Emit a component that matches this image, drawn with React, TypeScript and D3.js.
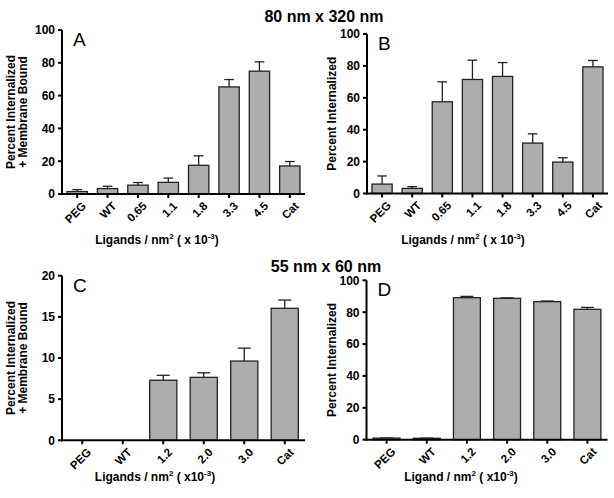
import React from "react";
import * as d3 from "d3";

const catsAB = ["PEG", "WT", "0.65", "1.1", "1.8", "3.3", "4.5", "Cat"];
const aMeans = [1.5, 3.3, 5.4, 7.1, 17.5, 65.3, 74.9, 17.1];
const aErrs = [1.2, 1.4, 1.6, 2.6, 5.8, 4.5, 5.7, 2.7];
const bMeans = [5.9, 3.2, 57.5, 71.5, 73.4, 31.6, 19.7, 79.4];
const bErrs = [5.1, 1.1, 12.5, 12.1, 8.7, 5.8, 2.7, 4.0];

const catsCD = ["PEG", "WT", "1.2", "2.0", "3.0", "Cat"];
const cMeans = [0, 0, 7.3, 7.65, 9.63, 16.04];
const cErrs = [0, 0, 0.6, 0.55, 1.57, 1.0];
const dMeans = [1.0, 0.9, 89.1, 88.7, 86.6, 81.8];
const dErrs = [0.1, 0.1, 0.8, 0.3, 0.4, 1.2];

const ticks100 = [0, 20, 40, 60, 80, 100];
const ticks20 = [0, 5, 10, 15, 20];

const FONT = "'Liberation Sans', Arial, sans-serif";

type PanelProps = {
  cats: string[];
  means: number[];
  errs: number[];
  yMax: number;
  ticks: number[];
  x0: number;
  x1: number;
  yTop: number;
  yBot: number;
  letter: string;
  yLabel: string[];
  yLabelX: number;
  xLabel: React.ReactNode;
  xLabelX: number;
  xLabelY: number;
};

function Panel(p: PanelProps) {
  const x = d3
    .scaleBand<string>()
    .domain(p.cats)
    .range([p.x0, p.x1])
    .paddingInner(0.33)
    .paddingOuter(0.165);
  const y = d3.scaleLinear().domain([0, p.yMax]).range([p.yBot, p.yTop]);
  const bw = x.bandwidth();
  const yMid = (p.yTop + p.yBot) / 2;
  return (
    <g>
      {p.cats.map((c, i) =>
        p.means[i] > 0 ? (
          <g key={c}>
            <line
              x1={x(c)! + bw / 2}
              x2={x(c)! + bw / 2}
              y1={y(p.means[i])}
              y2={y(p.means[i] + p.errs[i])}
              stroke="#222"
              strokeWidth={1.3}
            />
            <line
              x1={x(c)! + bw / 2 - bw * 0.24}
              x2={x(c)! + bw / 2 + bw * 0.24}
              y1={y(p.means[i] + p.errs[i])}
              y2={y(p.means[i] + p.errs[i])}
              stroke="#222"
              strokeWidth={1.3}
            />
            <rect
              x={x(c)}
              y={y(p.means[i])}
              width={bw}
              height={y(0) - y(p.means[i])}
              fill="#adadad"
              stroke="#222"
              strokeWidth={1.3}
            />
          </g>
        ) : null
      )}
      <line x1={p.x0} x2={p.x0} y1={p.yBot + 1} y2={p.yTop} stroke="#000" strokeWidth={2} />
      {p.ticks.map((t) => (
        <g key={t}>
          <line x1={p.x0 - 4} x2={p.x0} y1={y(t)} y2={y(t)} stroke="#000" strokeWidth={2} />
          <text
            x={p.x0 - 7}
            y={y(t)}
            dy="0.36em"
            textAnchor="end"
            fontSize={12}
            fontWeight="bold"
            fontFamily={FONT}
          >
            {t}
          </text>
        </g>
      ))}
      <line x1={p.x0 - 1} x2={p.x1} y1={p.yBot} y2={p.yBot} stroke="#000" strokeWidth={2} />
      {p.cats.map((c) => {
        const cx = x(c)! + bw / 2;
        return (
          <g key={c}>
            <line x1={cx} x2={cx} y1={p.yBot} y2={p.yBot + 4} stroke="#000" strokeWidth={2} />
            <g transform={`translate(${cx + 4},${p.yBot + 7}) rotate(-45)`}>
              <text
                x={0}
                y={0}
                textAnchor="end"
                dy="0.7em"
                fontSize={11.5}
                fontWeight="bold"
                fontFamily={FONT}
              >
                {c}
              </text>
            </g>
          </g>
        );
      })}
      <text x={p.x0 + 11} y={p.yTop + 16} fontSize={19} fontFamily={FONT}>
        {p.letter}
      </text>
      <g transform={`translate(${p.yLabelX},${yMid}) rotate(-90)`}>
        <text textAnchor="middle" fontSize={12} fontWeight="bold" fontFamily={FONT}>
          {p.yLabel.map((l, i) => (
            <tspan key={i} x={0} dy={i === 0 ? 0 : 12}>
              {l}
            </tspan>
          ))}
        </text>
      </g>
      <text
        x={p.xLabelX}
        y={p.xLabelY}
        textAnchor="middle"
        fontSize={12}
        fontWeight="bold"
        fontFamily={FONT}
      >
        {p.xLabel}
      </text>
    </g>
  );
}

function XLab({ word, sp }: { word: string; sp: string }) {
  return (
    <>
      <tspan>{word} / nm</tspan>
      <tspan fontSize={8} dy={-5}>2</tspan>
      <tspan dy={5}>{` ( x${sp}10`}</tspan>
      <tspan fontSize={8} dy={-5}>-3</tspan>
      <tspan dy={5}>)</tspan>
    </>
  );
}

export default function App() {
  return (
    <svg
      width={614}
      height={498}
      style={{ position: "absolute", left: 0, top: 0, background: "#fff" }}
    >
      <text x={324} y={22} textAnchor="middle" fontSize={16} fontWeight="bold" fontFamily={FONT}>
        80 nm x 320 nm
      </text>
      <text x={326} y={272} textAnchor="middle" fontSize={16} fontWeight="bold" fontFamily={FONT}>
        55 nm x 60 nm
      </text>
      <Panel
        cats={catsAB}
        means={aMeans}
        errs={aErrs}
        yMax={100}
        ticks={ticks100}
        x0={62}
        x1={305}
        yTop={30}
        yBot={194}
        letter="A"
        yLabel={["Percent Internalized", "+ Membrane Bound"]}
        yLabelX={15}
        xLabel={<XLab word="Ligands" sp=" " />}
        xLabelX={157}
        xLabelY={244}
      />
      <Panel
        cats={catsAB}
        means={bMeans}
        errs={bErrs}
        yMax={100}
        ticks={ticks100}
        x0={367}
        x1={608}
        yTop={34}
        yBot={193.5}
        letter="B"
        yLabel={["Percent Internalized"]}
        yLabelX={336}
        xLabel={<XLab word="Ligands" sp=" " />}
        xLabelX={463}
        xLabelY={244}
      />
      <Panel
        cats={catsCD}
        means={cMeans}
        errs={cErrs}
        yMax={20}
        ticks={ticks20}
        x0={62}
        x1={305}
        yTop={275.7}
        yBot={440.3}
        letter="C"
        yLabel={["Percent Internalized", "+ Membrane Bound"]}
        yLabelX={15}
        xLabel={<XLab word="Ligands" sp="" />}
        xLabelX={155}
        xLabelY={481}
      />
      <Panel
        cats={catsCD}
        means={dMeans}
        errs={dErrs}
        yMax={100}
        ticks={ticks100}
        x0={366.5}
        x1={607.5}
        yTop={280.3}
        yBot={439.7}
        letter="D"
        yLabel={["Percent Internalized"]}
        yLabelX={336}
        xLabel={<XLab word="Ligand" sp="" />}
        xLabelX={461}
        xLabelY={481}
      />
    </svg>
  );
}
